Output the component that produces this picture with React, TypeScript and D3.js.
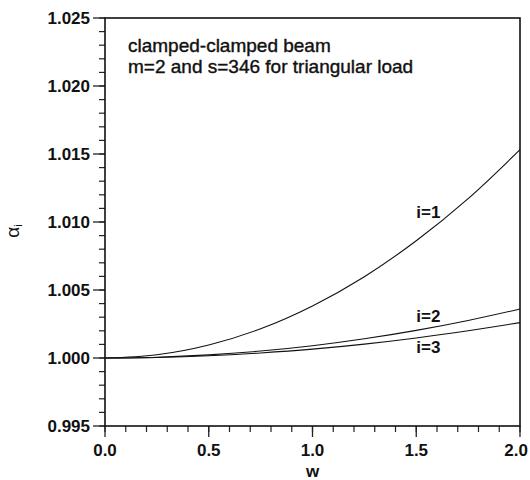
import * as d3 from "d3";
import { useEffect, useRef } from "react";

// w values along the x axis
const wValues = [0, 0.25, 0.5, 0.75, 1.0, 1.25, 1.5, 1.75, 2.0];

// alpha_i values
const alpha1 = [1.0, 1.00024, 1.00096, 1.00215, 1.00383, 1.00598, 1.00862, 1.01172, 1.01532];
const alpha2 = [1.0, 1.00006, 1.00023, 1.00051, 1.0009, 1.00141, 1.00203, 1.00276, 1.0036];
const alpha3 = [1.0, 1.00004, 1.00016, 1.00037, 1.00065, 1.00102, 1.00147, 1.002, 1.0026];

const seriesNames = ["i=1", "i=2", "i=3"];
const xTickLabels = ["0.0", "0.5", "1.0", "1.5", "2.0"];
const yTickLabels = ["0.995", "1.000", "1.005", "1.010", "1.015", "1.020", "1.025"];

const titleLines = ["clamped-clamped beam", "m=2 and s=346 for triangular load"];

const App = () => {
  const ref = useRef<SVGSVGElement>(null);

  useEffect(() => {
    const svg = d3.select(ref.current);
    svg.selectAll("*").remove();

    const width = 530, height = 480;
    const margin = { top: 18, right: 10, bottom: 54, left: 105 };
    const innerW = width - margin.left - margin.right;
    const innerH = height - margin.top - margin.bottom;
    const font = "'Liberation Sans', Arial, Helvetica, sans-serif";

    const x = d3.scaleLinear().domain([0, 2]).range([0, innerW]);
    const y = d3.scaleLinear().domain([0.995, 1.025]).range([innerH, 0]);

    const g = svg.append("g").attr("transform", `translate(${margin.left},${margin.top})`);

    // minor ticks
    const xMinor = d3.range(0, 2.0001, 0.1);
    const yMinor = d3.range(0.995, 1.02501, 0.001);
    g.selectAll(".xminor")
      .data(xMinor)
      .enter()
      .append("line")
      .attr("x1", (d) => x(d))
      .attr("x2", (d) => x(d))
      .attr("y1", innerH)
      .attr("y2", innerH + 6)
      .attr("stroke", "#222")
      .attr("stroke-width", 1.2);
    g.selectAll(".yminor")
      .data(yMinor)
      .enter()
      .append("line")
      .attr("x1", 0)
      .attr("x2", -6)
      .attr("y1", (d) => y(d))
      .attr("y2", (d) => y(d))
      .attr("stroke", "#222")
      .attr("stroke-width", 1.2);

    // major ticks + labels
    g.selectAll(".xmajor")
      .data(xTickLabels)
      .enter()
      .append("line")
      .attr("x1", (d) => x(+d))
      .attr("x2", (d) => x(+d))
      .attr("y1", innerH)
      .attr("y2", innerH + 11)
      .attr("stroke", "#222")
      .attr("stroke-width", 1.3);
    g.selectAll(".xlab")
      .data(xTickLabels)
      .enter()
      .append("text")
      .attr("x", (d, i) => (i === xTickLabels.length - 1 ? innerW + 8 : x(+d)))
      .attr("y", innerH + 30)
      .attr("text-anchor", (_, i) => (i === xTickLabels.length - 1 ? "end" : "middle"))
      .attr("font-family", font)
      .attr("font-size", 17)
      .attr("font-weight", "bold")
      .attr("fill", "#111")
      .text((d) => d);

    g.selectAll(".ymajor")
      .data(yTickLabels)
      .enter()
      .append("line")
      .attr("x1", 0)
      .attr("x2", -12)
      .attr("y1", (d) => y(+d))
      .attr("y2", (d) => y(+d))
      .attr("stroke", "#222")
      .attr("stroke-width", 1.3);
    g.selectAll(".ylab")
      .data(yTickLabels)
      .enter()
      .append("text")
      .attr("x", -15)
      .attr("y", (d) => y(+d))
      .attr("dy", "0.36em")
      .attr("text-anchor", "end")
      .attr("font-family", font)
      .attr("font-size", 17)
      .attr("font-weight", "bold")
      .attr("fill", "#111")
      .text((d) => d);

    // frame
    g.append("rect")
      .attr("x", 0)
      .attr("y", 0)
      .attr("width", innerW)
      .attr("height", innerH)
      .attr("fill", "none")
      .attr("stroke", "#111")
      .attr("stroke-width", 1.6);

    // curves
    const allSeries = [alpha1, alpha2, alpha3];
    const line = d3
      .line<number>()
      .x((_, i) => x(wValues[i]))
      .y((d) => y(d))
      .curve(d3.curveCatmullRom);
    g.selectAll(".curve")
      .data(allSeries)
      .enter()
      .append("path")
      .attr("fill", "none")
      .attr("stroke", "#111")
      .attr("stroke-width", 1.1)
      .attr("d", (d) => line(d));

    // curve labels, placed near w=1.5
    const labelPos = [
      { w: 1.5, v: alpha1[6] + 0.0017 },
      { w: 1.5, v: alpha2[6] + 0.0006 },
      { w: 1.5, v: alpha3[6] - 0.0011 },
    ];
    g.selectAll(".clab")
      .data(seriesNames)
      .enter()
      .append("text")
      .attr("x", (_, i) => x(labelPos[i].w))
      .attr("y", (_, i) => y(labelPos[i].v))
      .attr("font-family", font)
      .attr("font-size", 17)
      .attr("font-weight", "bold")
      .attr("fill", "#111")
      .text((d) => d);

    // annotation
    g.selectAll(".title")
      .data(titleLines)
      .enter()
      .append("text")
      .attr("x", 23)
      .attr("y", (_, i) => 34 + i * 21)
      .attr("font-family", font)
      .attr("font-size", 19)
      .attr("fill", "#111")
      .attr("stroke", "#111")
      .attr("stroke-width", 0.4)
      .text((d) => d);

    // axis titles
    svg
      .append("text")
      .attr("x", margin.left + x(1.0))
      .attr("y", 477)
      .attr("text-anchor", "middle")
      .attr("font-family", font)
      .attr("font-size", 17)
      .attr("font-weight", "bold")
      .attr("fill", "#111")
      .text("w");

    const yl = svg
      .append("text")
      .attr("transform", "translate(19,231) rotate(-90)")
      .attr("text-anchor", "middle")
      .attr("font-family", font)
      .attr("font-size", 19)
      .attr("fill", "#111");
    yl.append("tspan").text("α");
    yl.append("tspan").attr("font-size", 11).attr("dy", 3).text("i");
  }, []);

  return (
    <svg
      ref={ref}
      width={530}
      height={480}
      style={{ position: "absolute", left: 0, top: 0, background: "#fff" }}
    />
  );
};

export default App;
